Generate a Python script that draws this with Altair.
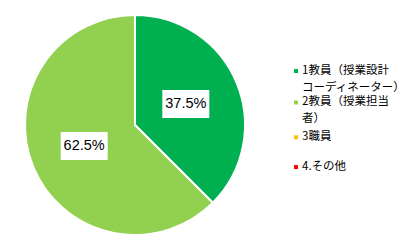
import altair as alt
import pandas as pd

categories = ["1教員（授業設計コーディネーター）", "2教員（授業担当者）", "3職員", "4.その他"]
values = [37.5, 62.5, 0.0, 0.0]
colors = ["#00B050", "#92D050", "#FFC000", "#FF0000"]
legend_lines = [["1教員（授業設計", "コーディネーター）"], ["2教員（授業担当", "者）"], ["3職員"], ["4.その他"]]
legend_slots = [[0, 1], [1.85, 2.85], [3.9], [5.65]]

df = pd.DataFrame({"cat": categories, "value": values, "order": list(range(len(categories)))})

rows = []
for cat, lines, slots in zip(categories, legend_lines, legend_slots):
    for i, (ln, s) in enumerate(zip(lines, slots)):
        rows.append({"cat": cat, "line": ln, "slot": s, "first": i == 0})
leg = pd.DataFrame(rows)

CX, CY, R, LR = 135, 125, 110, 55
color_scale = alt.Scale(domain=categories, range=colors)

base = alt.Chart(df)

pie = base.mark_arc(radius=R, stroke="white", strokeWidth=2).encode(
    theta=alt.Theta("value:Q", stack=True),
    color=alt.Color("cat:N", scale=color_scale, legend=None),
    order=alt.Order("order:Q"),
    x=alt.value(CX),
    y=alt.value(CY),
)

lab = base.transform_joinaggregate(total="sum(value)").transform_window(
    cum="sum(value)", sort=[alt.SortField("order")]
).transform_filter("datum.value > 0").transform_calculate(
    ang="(datum.cum - datum.value/2) / datum.total * 2 * PI",
    px=f"{CX} + {LR} * sin(datum.ang)",
    py=f"{CY} - {LR} * cos(datum.ang)",
    px1="datum.px - 23.5", px2="datum.px + 23.5",
    py1="datum.py - 14", py2="datum.py + 14",
    txt="format(datum.value, '.1f') + '%'",
)

boxes = lab.mark_rect(color="white").encode(
    x=alt.X("px1:Q", scale=None), x2="px2:Q",
    y=alt.Y("py1:Q", scale=None), y2="py2:Q",
)
texts = lab.mark_text(font="Liberation Sans", fontSize=14.5, color="black",
                      align="center", baseline="middle").encode(
    x=alt.X("px:Q", scale=None), y=alt.Y("py:Q", scale=None), text="txt:N"
)

lb = alt.Chart(leg).transform_calculate(ly="71 + datum.slot * 17")
leg_sym = lb.transform_filter("datum.first").mark_square(size=16, opacity=1).encode(
    x=alt.value(296), y=alt.Y("ly:Q", scale=None),
    color=alt.Color("cat:N", scale=color_scale, legend=None),
)
leg_txt = lb.mark_text(font="Noto Sans CJK JP", fontSize=11.5, align="left",
                       baseline="middle", color="black").encode(
    x=alt.value(302), y=alt.Y("ly:Q", scale=None), text="line:N"
)

chart = alt.layer(pie, boxes, texts, leg_sym, leg_txt).properties(
    width=417, height=251, padding=0, autosize="none", background="white"
).configure_view(stroke=None)

chart.save("out.html", embed_options={"renderer": "svg", "actions": False})
